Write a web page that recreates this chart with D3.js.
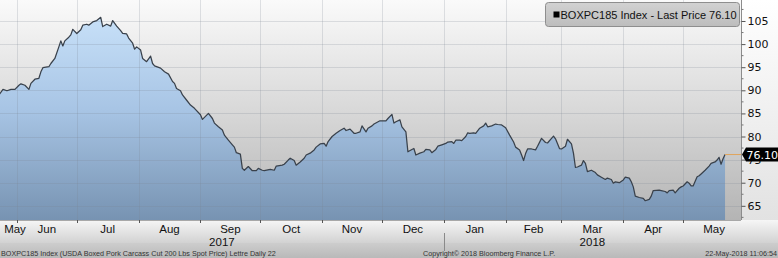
<!DOCTYPE html>
<html>
<head>
<meta charset="utf-8">
<script src="https://cdn.jsdelivr.net/npm/d3@7"></script>
<style>
  html, body { margin: 0; padding: 0; background: #fff; }
  svg { display: block; }
</style>
</head>
<body>
<svg id="chart"></svg>
<script>
// daily closes
const dates = [
  "2017-05-23","2017-05-25","2017-05-27","2017-05-29","2017-05-31","2017-06-02","2017-06-03","2017-06-05","2017-06-07","2017-06-08",
  "2017-06-10","2017-06-12","2017-06-13","2017-06-14","2017-06-17","2017-06-18","2017-06-20","2017-06-22","2017-06-23","2017-06-24",
  "2017-06-25","2017-06-27","2017-06-28","2017-06-29","2017-07-01","2017-07-03","2017-07-04","2017-07-06","2017-07-07","2017-07-09",
  "2017-07-11","2017-07-13","2017-07-14","2017-07-16","2017-07-18","2017-07-19","2017-07-21","2017-07-23","2017-07-24","2017-07-26",
  "2017-07-27","2017-07-29","2017-07-30","2017-07-31","2017-08-02","2017-08-03","2017-08-05","2017-08-07","2017-08-08","2017-08-09",
  "2017-08-12","2017-08-14","2017-08-16","2017-08-18","2017-08-19","2017-08-20","2017-08-22","2017-08-23","2017-08-25","2017-08-27",
  "2017-08-29","2017-09-01","2017-09-02","2017-09-05","2017-09-07","2017-09-08","2017-09-10","2017-09-12","2017-09-13","2017-09-15",
  "2017-09-17","2017-09-18","2017-09-19","2017-09-21","2017-09-22","2017-09-23","2017-09-25","2017-09-27","2017-09-29","2017-09-30",
  "2017-10-02","2017-10-03","2017-10-06","2017-10-08","2017-10-09","2017-10-12","2017-10-13","2017-10-15","2017-10-16","2017-10-18",
  "2017-10-19","2017-10-21","2017-10-23","2017-10-24","2017-10-26","2017-10-28","2017-10-29","2017-10-31","2017-11-02","2017-11-03",
  "2017-11-04","2017-11-06","2017-11-08","2017-11-10","2017-11-12","2017-11-13","2017-11-15","2017-11-17","2017-11-18","2017-11-20",
  "2017-11-21","2017-11-23","2017-11-24","2017-11-26","2017-11-27","2017-11-30","2017-12-03","2017-12-04","2017-12-06","2017-12-07",
  "2017-12-08","2017-12-10","2017-12-11","2017-12-13","2017-12-14","2017-12-16","2017-12-17","2017-12-18","2017-12-20","2017-12-22",
  "2017-12-23","2017-12-25","2017-12-26","2017-12-28","2017-12-29","2017-12-31","2018-01-02","2018-01-03","2018-01-05","2018-01-06",
  "2018-01-07","2018-01-09","2018-01-10","2018-01-12","2018-01-13","2018-01-14","2018-01-16","2018-01-17","2018-01-19","2018-01-21",
  "2018-01-22","2018-01-23","2018-01-25","2018-01-27","2018-01-28","2018-01-30","2018-02-01","2018-02-03","2018-02-05","2018-02-06",
  "2018-02-08","2018-02-09","2018-02-10","2018-02-11","2018-02-12","2018-02-14","2018-02-16","2018-02-17","2018-02-19","2018-02-21",
  "2018-02-22","2018-02-24","2018-02-25","2018-02-26","2018-02-28","2018-03-01","2018-03-03","2018-03-04","2018-03-06","2018-03-07",
  "2018-03-08","2018-03-09","2018-03-11","2018-03-12","2018-03-13","2018-03-14","2018-03-16","2018-03-18","2018-03-19","2018-03-21",
  "2018-03-23","2018-03-24","2018-03-26","2018-03-27","2018-03-28","2018-03-30","2018-04-01","2018-04-02","2018-04-04","2018-04-05",
  "2018-04-06","2018-04-07","2018-04-09","2018-04-11","2018-04-12","2018-04-14","2018-04-15","2018-04-16","2018-04-19","2018-04-20",
  "2018-04-22","2018-04-23","2018-04-24","2018-04-26","2018-04-27","2018-04-29","2018-04-30","2018-05-01","2018-05-03","2018-05-04",
  "2018-05-05","2018-05-06","2018-05-08","2018-05-09","2018-05-10","2018-05-12","2018-05-14","2018-05-15","2018-05-17","2018-05-18",
  "2018-05-19","2018-05-20","2018-05-21","2018-05-22"
];
const prices = [
  89.0, 90.2, 89.9, 90.2, 90.2, 91.1, 91.4, 91.1, 90.2, 91.5,
  92.4, 92.6, 94.0, 94.9, 95.1, 95.8, 96.9, 99.4, 100.7, 99.6,
  100.7, 101.5, 102.0, 103.2, 102.3, 103.1, 104.1, 104.3, 104.1, 104.8,
  105.1, 105.8, 103.8, 104.3, 103.9, 105.1, 103.9, 102.9, 102.3, 102.2,
  101.3, 100.2, 98.9, 99.4, 98.7, 96.9, 96.2, 97.4, 95.8, 95.3,
  94.8, 94.0, 93.5, 91.9, 91.5, 90.4, 89.9, 89.0, 87.9, 86.8,
  86.1, 84.7, 83.7, 85.0, 83.9, 82.9, 82.1, 81.4, 80.3, 79.2,
  78.2, 77.7, 76.5, 76.2, 73.1, 72.7, 73.5, 72.6, 72.6, 73.1,
  72.7, 72.6, 72.9, 72.7, 73.6, 73.8, 74.0, 74.9, 75.3, 74.8,
  73.8, 74.5, 75.3, 76.0, 76.4, 77.1, 77.7, 78.4, 78.5, 77.9,
  78.9, 80.0, 80.7, 81.3, 81.8, 81.3, 81.6, 80.7, 80.7, 81.0,
  82.3, 81.0, 81.8, 82.3, 82.7, 83.4, 83.4, 83.9, 84.8, 82.9,
  83.2, 83.6, 82.1, 81.0, 76.7, 77.2, 77.4, 76.0, 76.4, 76.7,
  77.2, 77.1, 76.5, 77.2, 77.9, 78.2, 78.5, 78.8, 78.9, 78.5,
  79.2, 79.2, 79.1, 80.0, 80.8, 80.7, 80.8, 80.7, 81.8, 82.3,
  82.9, 82.1, 82.3, 82.7, 82.6, 82.5, 81.9, 80.3, 78.8, 77.7,
  77.1, 76.0, 74.8, 76.3, 77.3, 77.3, 77.1, 77.9, 79.6, 78.7,
  78.6, 79.6, 80.1, 79.5, 77.4, 77.3, 77.9, 79.4, 78.4, 76.4,
  73.3, 73.4, 73.8, 74.8, 74.2, 72.4, 72.7, 72.2, 71.7, 71.2,
  70.7, 71.0, 70.7, 69.9, 70.2, 70.0, 70.6, 71.2, 71.0, 70.2,
  69.1, 67.1, 66.8, 66.6, 66.1, 66.4, 67.1, 68.3, 68.4, 68.3,
  68.1, 67.8, 68.3, 68.4, 67.8, 68.8, 69.1, 69.3, 70.2, 69.9,
  69.3, 69.3, 71.3, 71.5, 71.9, 72.7, 73.6, 74.2, 74.5, 74.9,
  75.5, 74.0, 75.2, 76.1
];
const yTicks = [65, 70, 75, 80, 85, 90, 95, 100, 105];
const lastPrice = 76.10;
const legendText = "BOXPC185 Index - Last Price 76.10";
const footerLeft = "BOXPC185 Index (USDA Boxed Pork Carcass Cut 200 Lbs Spot Price) Lettre  Daily 22";
const footerMid = "Copyright\u00A9 2018 Bloomberg Finance L.P.";
const footerRight = "22-May-2018 11:06:54";

const width = 778, height = 258;
const plotW = 741, plotH = 220;

const parse = d3.utcParse("%Y-%m-%d");
const data = dates.map((d, i) => ({ date: parse(d), value: prices[i] }));

const svg = d3.select("#chart")
    .attr("width", width)
    .attr("height", height)
    .style("font-family", "'Liberation Sans', Arial, sans-serif");

const xStart = new Date(Date.UTC(2017, 4, 23, 12));
const xEnd = new Date(Date.UTC(2018, 4, 30));
const x = d3.scaleTime().domain([xStart, xEnd]).range([0, plotW]);
const y = d3.scaleLinear().domain([61.93, 109.545]).range([plotH, 0]);

// gradients
const defs = svg.append("defs");
function vGrad(id, stops) {
    const g = defs.append("linearGradient").attr("id", id)
        .attr("x1", 0).attr("y1", 0).attr("x2", 0).attr("y2", 1);
    stops.forEach(s => g.append("stop").attr("offset", s[0]).attr("stop-color", s[1]));
}
vGrad("bgPlot", [[0, "#fafafa"], [0.45, "#dcdcdc"], [1, "#b4b4b4"]]);
vGrad("bgRight", [[0, "#ffffff"], [1, "#e2e2e2"]]);
vGrad("areaFill", [[0, "#c7e0f8"], [0.45, "#a8c5e5"], [1, "#7793b2"]]);
vGrad("axisBand", [[0, "#f6f6f6"], [1, "#d2d2d2"]]);
vGrad("footBand", [[0, "#cdcdcd"], [1, "#b9b9b9"]]);
vGrad("legendFill", [[0, "#d2d2d2"], [1, "#bdbdbd"]]);

defs.append("clipPath").attr("id", "plotClip")
    .append("rect").attr("width", plotW).attr("height", plotH);

svg.append("rect").attr("x", plotW).attr("width", width - plotW).attr("height", plotH).attr("fill", "url(#bgRight)");
svg.append("rect").attr("width", plotW).attr("height", plotH).attr("fill", "url(#bgPlot)");
svg.append("rect").attr("y", plotH).attr("width", width).attr("height", 23).attr("fill", "url(#axisBand)");
svg.append("rect").attr("y", plotH + 23).attr("width", width).attr("height", height - plotH - 23).attr("fill", "url(#footBand)");

const plot = svg.append("g").attr("clip-path", "url(#plotClip)");

const area = d3.area()
    .x(d => x(d.date))
    .y0(plotH)
    .y1(d => y(d.value));
const line = d3.line()
    .x(d => x(d.date))
    .y(d => y(d.value));

plot.append("path").datum(data).attr("d", area).attr("fill", "url(#areaFill)");

// grid
const months = d3.utcMonth.range(xStart, xEnd);
plot.selectAll(".vgrid").data(months).enter().append("line")
    .attr("x1", d => Math.round(x(d)) + 0.5).attr("x2", d => Math.round(x(d)) + 0.5)
    .attr("y1", 0).attr("y2", plotH)
    .attr("stroke", "#7c8590").attr("stroke-opacity", 0.22);
plot.selectAll(".hgrid").data(yTicks).enter().append("line")
    .attr("x1", 0).attr("x2", plotW)
    .attr("y1", d => Math.round(y(d)) + 0.5).attr("y2", d => Math.round(y(d)) + 0.5)
    .attr("stroke", "#7c8590").attr("stroke-opacity", 0.22);

plot.append("path").datum(data).attr("d", line)
    .attr("fill", "none").attr("stroke", "#39414b").attr("stroke-width", 1.25)
    .attr("stroke-linejoin", "round");

// last price guide
const last = data[data.length - 1];
svg.append("line")
    .attr("x1", x(last.date)).attr("x2", plotW)
    .attr("y1", y(lastPrice)).attr("y2", y(lastPrice))
    .attr("stroke", "#e0a55e").attr("stroke-width", 1);

// right axis
const yAxis = d3.axisRight(y).tickValues(yTicks).tickSize(4).tickPadding(2);
const yg = svg.append("g").attr("transform", `translate(${plotW + 0.5},0)`).call(yAxis);
yg.select(".domain").attr("stroke", "#8c8c8c").attr("d", `M0,0V${plotH}`);
yg.selectAll(".tick line").attr("stroke", "#555");
yg.selectAll(".tick text").attr("fill", "#111")
    .style("font-family", "'DejaVu Sans', sans-serif").style("font-size", "11px");
yg.selectAll(".minor").data(d3.range(62.5, 110, 5)).enter().append("line")
    .attr("x1", 0).attr("x2", 2)
    .attr("y1", d => y(d)).attr("y2", d => y(d))
    .attr("stroke", "#777");

// x axis ticks and labels
svg.append("line").attr("x1", 0).attr("x2", plotW).attr("y1", plotH + 0.5).attr("y2", plotH + 0.5)
    .attr("stroke", "#a8a8a8");
svg.selectAll(".xtick").data(months).enter().append("line")
    .attr("x1", d => Math.round(x(d)) + 0.5).attr("x2", d => Math.round(x(d)) + 0.5)
    .attr("y1", plotH).attr("y2", plotH + 3)
    .attr("stroke", "#555");

const fmtMonth = d3.utcFormat("%b");
const labelRight = plotW + 7;
svg.selectAll(".mlabel").data(months.concat([d3.utcMonth.floor(xStart)]).sort((a, b) => a - b))
    .enter().append("text")
    .attr("x", d => {
        const a = Math.max(0, x(d));
        const b = Math.min(labelRight, x(d3.utcMonth.offset(d, 1)));
        return Math.max((a + b) / 2, 15);
    })
    .attr("y", plotH + 12.5)
    .attr("text-anchor", "middle")
    .attr("fill", "#111")
    .style("font-size", "11.5px")
    .text(fmtMonth);

const years = [2017, 2018];
svg.selectAll(".ylabel").data(years).enter().append("text")
    .attr("x", d => {
        const a = Math.max(0, x(new Date(Date.UTC(d, 0, 1))));
        const b = Math.min(plotW, x(new Date(Date.UTC(d + 1, 0, 1))));
        return (a + b) / 2;
    })
    .attr("y", plotH + 25.5)
    .attr("text-anchor", "middle")
    .attr("fill", "#111")
    .style("font-size", "11.5px")
    .text(d => d);
const ySep = Math.round(x(new Date(Date.UTC(2018, 0, 1)))) + 0.5;
svg.append("line").attr("x1", ySep).attr("x2", ySep).attr("y1", plotH + 13).attr("y2", plotH + 31)
    .attr("stroke", "#8a8a8a");

// legend
const lg = svg.append("g").attr("transform", "translate(545.5,2.5)");
lg.append("rect").attr("width", 194).attr("height", 24).attr("rx", 3)
    .attr("fill", "url(#legendFill)").attr("stroke", "#8e8e8e");
lg.append("rect").attr("x", 8).attr("y", 9).attr("width", 6).attr("height", 6).attr("fill", "#000");
lg.append("text").attr("x", 15).attr("y", 16.5).attr("fill", "#111")
    .style("font-size", "11px").text(legendText);

// last price tag
const ty = y(lastPrice);
svg.append("path")
    .attr("d", `M${plotW + 1},${ty} L${plotW + 5},${ty - 7} H${width} V${ty + 7} H${plotW + 5} Z`)
    .attr("fill", "#000");
svg.append("text").attr("x", plotW + 5.5).attr("y", ty + 4.5).attr("fill", "#fff")
    .style("font-family", "'DejaVu Sans', sans-serif").style("font-size", "11px")
    .text(d3.format(".2f")(lastPrice));

// footer
const foot = svg.append("g").style("font-size", "7.2px").attr("fill", "#333");
foot.append("text").attr("x", 1).attr("y", 255.5).text(footerLeft);
foot.append("text").attr("x", 423).attr("y", 255.5).text(footerMid);
foot.append("text").attr("x", 777).attr("y", 255.5).attr("text-anchor", "end").text(footerRight);
</script>
</body>
</html>
